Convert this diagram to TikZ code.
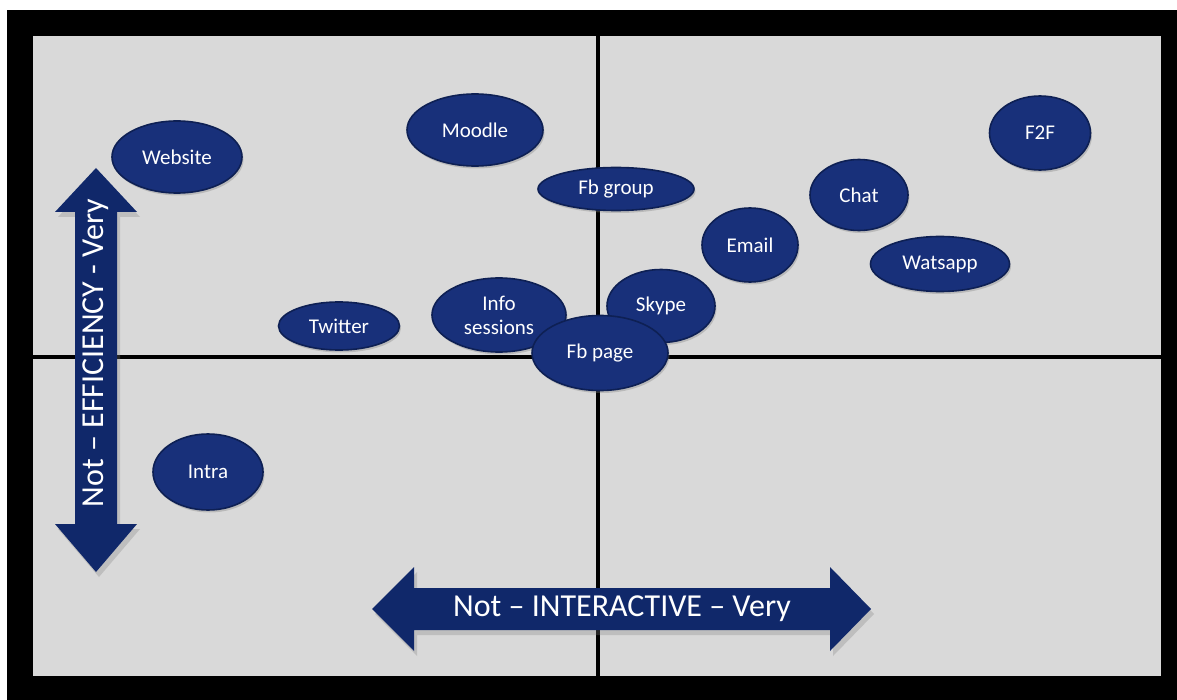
\documentclass[tikz,border=0pt]{standalone}
\usepackage{fontspec}
\setmainfont{Carlito}
\usetikzlibrary{shapes.geometric,shadows}
\definecolor{navy}{RGB}{24,48,122}
\definecolor{navyedge}{RGB}{14,32,84}
\definecolor{arrowblue}{RGB}{16,40,106}
\definecolor{panel}{RGB}{217,217,217}
\tikzset{
  bubble/.style={ellipse, fill=navy, draw=navyedge, line width=1.6pt, text=white,
    inner sep=0pt, font=\fontsize{21}{25}\selectfont, align=center,
    drop shadow={opacity=0.35, shadow xshift=1.5pt, shadow yshift=-2.5pt}},
  axisline/.style={line width=4pt, black},
  bigarrow/.style={fill=arrowblue, draw=none,
    drop shadow={opacity=0.3, shadow xshift=3pt, shadow yshift=-5pt}},
  arrowtext/.style={text=white, inner sep=0pt, font=\fontsize{32}{38}\selectfont}
}
\begin{document}
\begin{tikzpicture}[x=1pt,y=-1pt]
\useasboundingbox (0,0) rectangle (1177,700);
\fill[white] (0,0) rectangle (1177,700);
\fill[black] (7,10) rectangle (1177,700);
\fill[panel] (33,36) rectangle (1161,676);
% axes
\coordinate (vt) at (598,36);
\coordinate (vb) at (598,676);
\coordinate (hl) at (33,357);
\coordinate (hr) at (1161,357);
\draw[axisline] (vt) -- (vb);
\draw[axisline] (hl) -- (hr);
% vertical arrow
\fill[bigarrow] (96,168) -- (137,212) -- (117,212) -- (117,524) -- (137,524) -- (96,572)
  -- (55,524) -- (75,524) -- (75,212) -- (55,212) -- cycle;
\node[arrowtext, rotate=90] (eff) at (96,353) {Not – EFFICIENCY - Very};
% horizontal arrow
\fill[bigarrow] (372,609) -- (414,567) -- (414,588) -- (830,588) -- (830,567) -- (871,609)
  -- (830,651) -- (830,630) -- (414,630) -- (414,651) -- cycle;
\node[arrowtext] (inter) at (622,609) {Not – INTERACTIVE – Very};
% bubbles
\node[bubble, minimum width=130pt, minimum height=72pt] (website) at (177,157) {Website};
\node[bubble, minimum width=136pt, minimum height=72pt] (moodle) at (475,130) {Moodle};
\node[bubble, minimum width=101pt, minimum height=74pt] (f2f) at (1040,133) {F2F};
\node[bubble, minimum width=98pt, minimum height=71pt] (chat) at (859,195) {Chat};
\node[bubble, minimum width=96pt, minimum height=74pt] (email) at (750,245) {Email};
\node[bubble, minimum width=139pt, minimum height=55pt] (watsapp) at (940,264) {Watsapp};
\node[bubble, minimum width=156pt, minimum height=43pt] (fbgroup) at (616,189) {Fb group};
\node[bubble, minimum width=121pt, minimum height=48pt] (twitter) at (339,326) {Twitter};
\node[bubble, minimum width=134pt, minimum height=74pt] (info) at (499,315) {Info\\[-1pt]sessions};
\node[bubble, minimum width=108pt, minimum height=73pt] (skype) at (661,306) {Skype};
\node[bubble, minimum width=136pt, minimum height=75pt] (fbpage) at (600,353) {Fb page};
\node[bubble, minimum width=110pt, minimum height=76pt] (intra) at (208,472) {Intra};
\end{tikzpicture}
\end{document}
